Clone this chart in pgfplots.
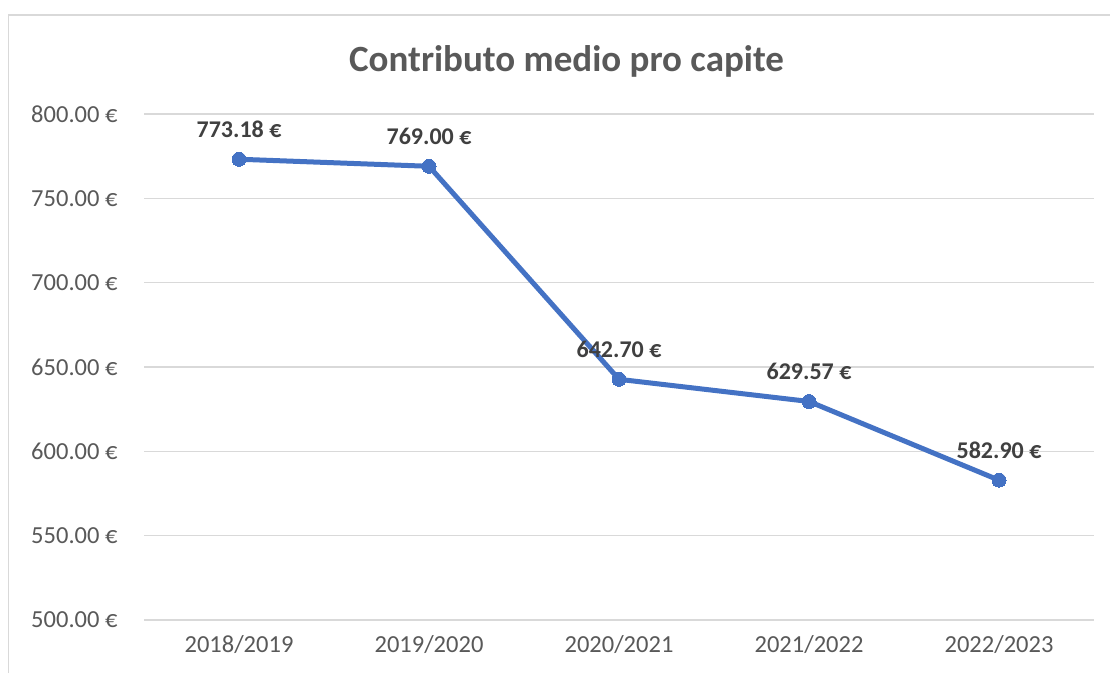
\documentclass[border=0pt]{standalone}
\usepackage{pgfplots}
\pgfplotsset{compat=1.18}
\usepackage{fontspec}
\setmainfont{Carlito}
\definecolor{lineblue}{HTML}{4472C4}
\definecolor{gridgray}{HTML}{D9D9D9}
\definecolor{ticktext}{HTML}{595959}
\definecolor{labeltext}{HTML}{404040}
\begin{document}
\begin{tikzpicture}
\useasboundingbox (0,0) rectangle (1110pt,673pt);
\fill[white] (0,0) rectangle (1110pt,673pt);
\draw[gridgray, line width=1.5pt] (8.5pt,0) -- (8.5pt,658pt) -- (1110pt,658pt);
\node[font=\fontsize{37}{44}\selectfont\bfseries, text=ticktext] at (566.5pt,612pt) {Contributo medio pro capite};
\begin{axis}[
  at={(144pt,53pt)}, anchor=south west,
  scale only axis, width=950pt, height=506pt,
  xmin=-0.5, xmax=4.5, ymin=500, ymax=800,
  xtick={0,1,2,3,4},
  xticklabels={2018/2019,2019/2020,2020/2021,2021/2022,2022/2023},
  ytick={500,550,600,650,700,750,800},
  yticklabels={500.00 €,550.00 €,600.00 €,650.00 €,700.00 €,750.00 €,800.00 €},
  axis line style={draw=none},
  major tick length=0pt,
  ymajorgrids, grid style={gridgray, line width=1.5pt},
  tick label style={font=\fontsize{24.5}{28}\selectfont, text=ticktext},
  yticklabel style={xshift=-23pt},
  xticklabel style={yshift=-12pt},
  clip=false,
]
\addplot[lineblue, line width=5pt, mark=*, mark size=7pt, mark options={fill=lineblue, draw=lineblue, line width=0pt},
  point meta=explicit symbolic,
  nodes near coords={\pgfplotspointmeta},
  every node near coord/.append style={anchor=base, yshift=22pt, font=\fontsize{24}{28}\selectfont\bfseries, text=labeltext}]
  coordinates {
  (0,773.18) [773.18 €]
  (1,769.00) [769.00 €]
  (2,642.70) [642.70 €]
  (3,629.57) [629.57 €]
  (4,582.90) [582.90 €]
};
\end{axis}
\end{tikzpicture}
\end{document}
